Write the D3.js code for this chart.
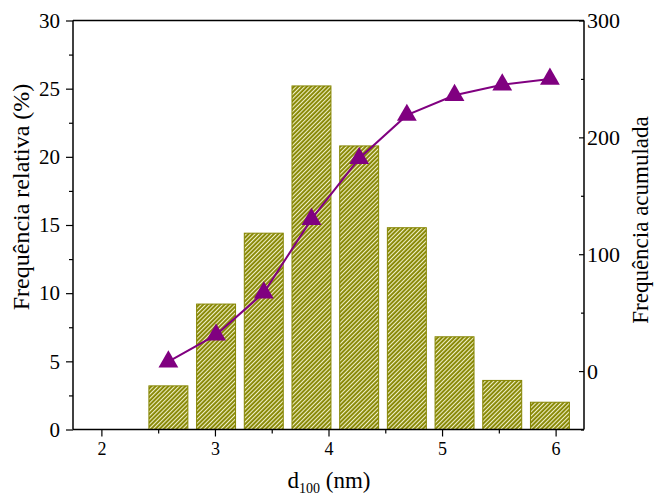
<!DOCTYPE html>
<html>
<head>
<meta charset="utf-8">
<script src="https://cdn.jsdelivr.net/npm/d3@7"></script>
<style>
  body { margin: 0; background: #fff; }
  svg text { font-family: "Times New Roman", "Liberation Serif", Tinos, "DejaVu Serif", serif !important; fill: #000; }
</style>
</head>
<body>
<svg width="656" height="499"></svg>
<script>
// diameter bins (nm), relative frequency (%) and cumulative count
let binCenters = [2.59, 3.01, 3.43, 3.85, 4.27, 4.69, 5.11, 5.53, 5.95];
let relFreq = [3.2, 9.2, 14.4, 25.2, 20.8, 14.8, 6.8, 3.6, 2.0];
let cumFreq = [8, 31, 67, 130, 182, 219, 236, 245, 250];
let xTicks = [2, 3, 4, 5, 6];
let yLeftTicks = [0, 5, 10, 15, 20, 25, 30];
let yRightTicks = [0, 100, 200, 300];

let margin = {top: 20.5, right: 72, bottom: 69.5, left: 73};
let width = 656 - margin.left - margin.right,
    height = 499 - margin.top - margin.bottom;

let svg = d3.select("svg");

let defs = svg.append("defs");
let pat = defs.append("pattern")
    .attr("id", "hatch")
    .attr("patternUnits", "userSpaceOnUse")
    .attr("width", 3)
    .attr("height", 4)
    .attr("patternTransform", "rotate(45)");
pat.append("rect")
    .attr("width", 3).attr("height", 4)
    .attr("fill", "#858500");
pat.append("rect")
    .attr("x", 0).attr("width", 1.1).attr("height", 4)
    .attr("fill", "#f0f0c8");

let g = svg.append("g")
    .attr("transform", "translate(" + margin.left + "," + margin.top + ")");

let x = d3.scaleLinear().domain([1.75, 6.25]).range([0, width]);
let y = d3.scaleLinear().domain([0, 30]).range([height, 0]);
let y2 = d3.scaleLinear().domain([-50, 300]).range([height, 0]);

let binW = 0.343;

// bars
g.append("g").attr("class", "bars")
  .selectAll("rect")
  .data(relFreq)
  .enter().append("rect")
    .attr("x", (d, i) => x(binCenters[i] - binW / 2))
    .attr("width", x(binW) - x(0))
    .attr("y", d => y(d))
    .attr("height", d => y(0) - y(d))
    .attr("fill", "url(#hatch)")
    .attr("stroke", "#858500")
    .attr("stroke-width", 1);

// cumulative line
let line = d3.line()
    .x((d, i) => x(binCenters[i]))
    .y(d => y2(d));

g.append("path")
    .datum(cumFreq)
    .attr("d", line)
    .attr("fill", "none")
    .attr("stroke", "#800080")
    .attr("stroke-width", 2);

g.append("g").attr("class", "markers")
  .selectAll("path")
  .data(cumFreq)
  .enter().append("path")
    .attr("d", d3.symbol().type(d3.symbolTriangle).size(170))
    .attr("transform", (d, i) => "translate(" + x(binCenters[i]) + "," + y2(d) + ")")
    .attr("fill", "#800080");

// axes
let xAxis = g.append("g")
    .attr("transform", "translate(0," + height + ")")
    .call(d3.axisBottom(x).tickValues(xTicks).tickFormat(d3.format("d")).tickSize(7).tickPadding(6));
g.append("g")
    .attr("transform", "translate(0," + height + ")")
    .call(d3.axisBottom(x).tickValues([2.5, 3.5, 4.5, 5.5]).tickFormat("").tickSize(4))
    .select(".domain").remove();

let yAxis = g.append("g")
    .call(d3.axisLeft(y).tickValues(yLeftTicks).tickSize(7).tickPadding(6));
g.append("g")
    .call(d3.axisLeft(y).tickValues([2.5, 7.5, 12.5, 17.5, 22.5, 27.5]).tickFormat("").tickSize(4))
    .select(".domain").remove();

let y2Axis = g.append("g")
    .attr("transform", "translate(" + width + ",0)")
    .call(d3.axisRight(y2).tickValues(yRightTicks).tickSize(-5).tickPadding(3));
g.append("g")
    .attr("transform", "translate(" + width + ",0)")
    .call(d3.axisRight(y2).tickValues([-50, 50, 150, 250]).tickFormat("").tickSize(-3))
    .select(".domain").remove();

// top frame line
g.append("line")
    .attr("x1", 0).attr("x2", width)
    .attr("y1", 0).attr("y2", 0)
    .attr("stroke", "#000").attr("stroke-width", 1.5);

g.selectAll(".domain").attr("stroke-width", 1.5);
g.selectAll(".tick line").attr("stroke-width", 1.2);
g.selectAll("g").attr("font-family", null);
xAxis.selectAll(".tick text").attr("font-size", 18);
yAxis.selectAll(".tick text").attr("font-size", 21);
y2Axis.selectAll(".tick text").attr("font-size", 22);

xAxis.select(".domain").attr("d", "M0,0H" + width);
yAxis.select(".domain").attr("d", "M0," + height + "V0");
y2Axis.select(".domain").attr("d", "M0," + height + "V0");

// titles
svg.append("text")
    .attr("transform", "translate(29,197) rotate(-90)")
    .attr("text-anchor", "middle")
    .attr("font-size", 24)
    .text("Frequência relativa (%)");

svg.append("text")
    .attr("transform", "translate(648,220) rotate(-90)")
    .attr("text-anchor", "middle")
    .attr("font-size", 23)
    .text("Frequência acumulada");

let xt = svg.append("text")
    .attr("x", 329)
    .attr("y", 488)
    .attr("text-anchor", "middle")
    .attr("font-size", 23);
xt.append("tspan").text("d");
xt.append("tspan").attr("dy", 5).attr("font-size", 14).text("100");
xt.append("tspan").attr("dy", -5).text(" (nm)");
</script>
</body>
</html>
